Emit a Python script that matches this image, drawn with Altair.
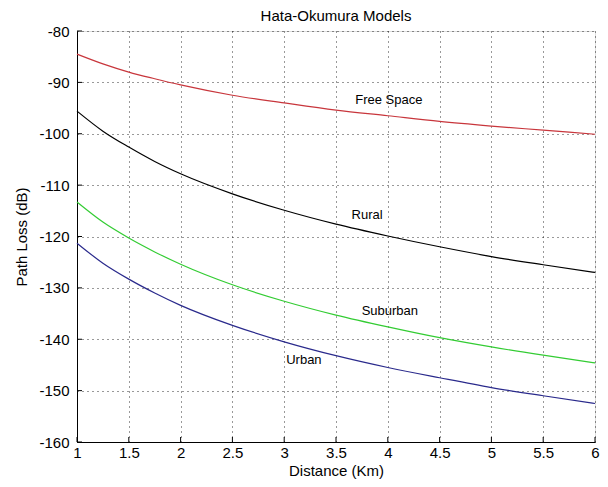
import altair as alt
import pandas as pd

# Data
distance = [1, 1.25, 1.5, 1.75, 2, 2.5, 3, 3.5, 4, 4.5, 5, 5.5, 6]
free_space = [-84.5, -86.4, -88.0, -89.3, -90.5, -92.5, -94.0, -95.4, -96.5, -97.6, -98.5, -99.3, -100.1]
rural = [-95.6, -99.5, -102.6, -105.4, -107.8, -111.7, -114.9, -117.6, -119.9, -122.0, -123.9, -125.5, -127.0]
suburban = [-113.3, -117.2, -120.3, -123.0, -125.4, -129.4, -132.6, -135.3, -137.6, -139.7, -141.5, -143.1, -144.6]
urban = [-121.3, -125.2, -128.3, -131.0, -133.4, -137.3, -140.5, -143.2, -145.5, -147.5, -149.4, -151.0, -152.5]

series_names = ["Free Space", "Rural", "Suburban", "Urban"]
series_colors = ["#c8363c", "#000000", "#33cc33", "#2a2a8c"]

label_x = [4.01, 3.8, 4.02, 3.19]
label_y = [-93.4, -115.8, -134.5, -144.1]

x_ticks = [1, 1.5, 2, 2.5, 3, 3.5, 4, 4.5, 5, 5.5, 6]
y_ticks = [-160, -150, -140, -130, -120, -110, -100, -90, -80]

W, H = 518, 411
FONT = "Liberation Sans"

rows = []
for name, vals in zip(series_names, [free_space, rural, suburban, urban]):
    for d, v in zip(distance, vals):
        rows.append({"series": name, "distance": d, "loss": v})
df = pd.DataFrame(rows)

labels_df = pd.DataFrame({"text": series_names, "x": label_x, "y": label_y})
xt_df = pd.DataFrame({"t": x_ticks})
yt_df = pd.DataFrame({"t": y_ticks})

xscale = alt.Scale(domain=[1, 6], nice=False, zero=False)
yscale = alt.Scale(domain=[-160, -80], nice=False, zero=False)

x_axis = alt.Axis(
    values=x_ticks, title="Distance (Km)", grid=True, gridDash=[1, 4],
    gridColor="#000000", gridOpacity=0.8, gridWidth=1, tickSize=0,
    domainColor="#000000", domainWidth=1, labelFont=FONT, labelFontSize=15,
    labelColor="#000000", labelPadding=3, titleFont=FONT, titleFontSize=15,
    titleFontWeight="normal", titleColor="#000000", titlePadding=3,
    labelExpr="'' + datum.value", labelFlush=False, labelOverlap=False,
)
y_axis = alt.Axis(
    values=y_ticks, title="Path Loss (dB)", grid=True, gridDash=[1, 4],
    gridColor="#000000", gridOpacity=0.8, gridWidth=1, tickSize=0,
    domainColor="#000000", domainWidth=1, labelFont=FONT, labelFontSize=15,
    labelColor="#000000", labelPadding=8, titleFont=FONT, titleFontSize=15,
    titleFontWeight="normal", titleColor="#000000", titlePadding=9,
    labelExpr="'' + datum.value", labelFlush=False, labelOverlap=False,
)

lines = alt.Chart(df).mark_line(strokeWidth=1.2, interpolate="monotone").encode(
    x=alt.X("distance:Q", scale=xscale, axis=x_axis),
    y=alt.Y("loss:Q", scale=yscale, axis=y_axis),
    color=alt.Color("series:N", scale=alt.Scale(domain=series_names, range=series_colors), legend=None),
    detail="series:N",
)

texts = alt.Chart(labels_df).mark_text(font=FONT, fontSize=13, color="#000000").encode(
    x=alt.X("x:Q", scale=xscale),
    y=alt.Y("y:Q", scale=yscale),
    text="text:N",
)

xticks = alt.Chart(xt_df).mark_rule(color="#000000", strokeWidth=1).encode(
    x=alt.X("t:Q", scale=xscale),
    y=alt.value(H),
    y2=alt.value(H - 5),
)
yticks = alt.Chart(yt_df).mark_rule(color="#000000", strokeWidth=1).encode(
    y=alt.Y("t:Q", scale=yscale),
    x=alt.value(0),
    x2=alt.value(5),
)

chart = alt.layer(lines, texts, xticks, yticks).properties(
    width=W, height=H,
    autosize="none",
    padding={"left": 69, "top": 23, "right": 5, "bottom": 44},
    title=alt.TitleParams("Hata-Okumura Models", font=FONT, fontSize=15,
                          fontWeight="normal", color="#000000", offset=0,
                          anchor="middle", frame="group"),
).configure_view(stroke=None).configure(background="#ffffff")

chart.save("out.html", embed_options={"renderer": "svg", "actions": False})
